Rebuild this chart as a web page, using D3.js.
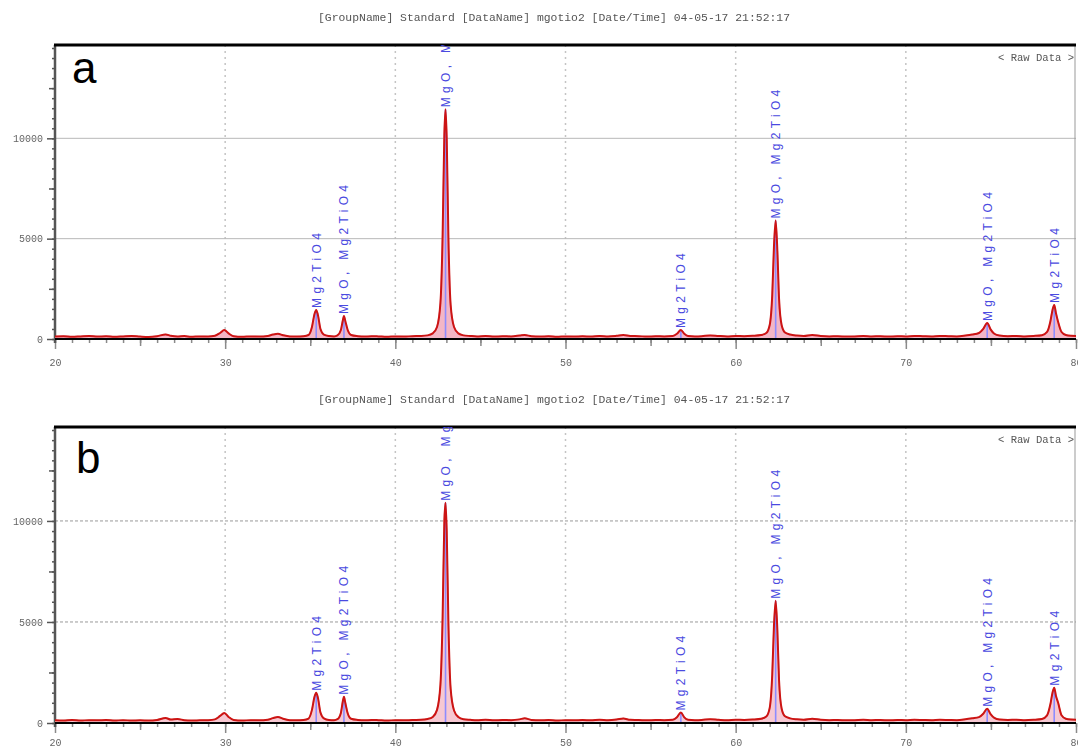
<!DOCTYPE html>
<html>
<head>
<meta charset="utf-8">
<script src="https://cdn.jsdelivr.net/npm/d3@7/dist/d3.min.js"></script>
<style>
  html, body { margin: 0; padding: 0; background: #fff; }
  svg { display: block; }
</style>
</head>
<body>
<svg id="chart" width="1078" height="749"></svg>
<script>
// Scan range and intensity range shared by both patterns
const twoThetaDomain = [20, 80];
const intensityDomain = [0, 14650];

const xMajorTicks = [20, 30, 40, 50, 60, 70, 80];
const yLabelTicks = [0, 5000, 10000];

const headerText = "[GroupName] Standard   [DataName] mgotio2   [Date/Time] 04-05-17 21:52:17";

// Indexed reflections: position (2θ), phase names
const peakPos = [35.35, 36.98, 42.95, 56.78, 62.35, 74.78, 78.72];
const peakNames = ["Mg2TiO4", "MgO, Mg2TiO4", "MgO, Mg2TiO4", "Mg2TiO4", "MgO, Mg2TiO4", "MgO, Mg2TiO4", "Mg2TiO4"];
const peakHeightsA = [1450, 1150, 11450, 450, 5900, 800, 1700];
const peakHeightsB = [1500, 1300, 10900, 520, 6050, 700, 1750];

// Measured pattern (a): [2θ, counts]
const patternA = [
  [20.0,120],[20.5,140],[21.0,110],[21.5,130],[22.0,150],[22.5,120],[23.0,140],[23.5,110],
  [24.0,130],[24.5,150],[25.0,120],[25.5,100],[26.0,140],[26.5,230],[26.8,160],[27.2,120],
  [27.6,150],[28.0,110],[28.5,130],[29.0,120],[29.4,160],[29.7,300],[29.95,450],[30.2,280],
  [30.5,140],[31.0,110],[31.5,130],[32.0,120],[32.5,150],[32.8,220],[33.1,260],[33.4,190],
  [33.8,130],[34.2,120],[34.6,140],[34.9,200],[35.1,600],[35.25,1250],[35.35,1450],[35.45,1200],
  [35.6,500],[35.8,220],[36.1,150],[36.4,130],[36.6,180],[36.8,450],[36.92,950],[36.98,1150],
  [37.06,900],[37.2,450],[37.4,200],[37.8,140],[38.2,120],[38.6,140],[39.0,130],[39.5,110],
  [40.0,130],[40.5,120],[41.0,140],[41.5,150],[41.9,180],[42.2,280],[42.45,600],[42.65,1800],
  [42.78,5200],[42.88,10200],[42.95,11450],[43.02,10000],[43.12,5000],[43.25,1700],[43.45,600],
  [43.7,280],[44.0,180],[44.4,150],[44.8,130],[45.3,150],[45.8,120],[46.3,140],[46.8,130],
  [47.3,170],[47.6,200],[48.0,140],[48.5,120],[49.0,140],[49.5,110],[50.0,130],[50.5,120],
  [51.0,140],[51.5,120],[52.0,150],[52.5,130],[53.0,160],[53.4,200],[53.8,150],[54.3,140],
  [54.8,120],[55.3,140],[55.8,130],[56.3,150],[56.55,260],[56.78,450],[56.98,260],[57.2,150],
  [57.6,130],[58.0,140],[58.5,180],[59.0,150],[59.5,130],[60.0,150],[60.5,140],[61.0,160],
  [61.5,200],[61.8,300],[62.0,700],[62.15,2200],[62.25,4600],[62.35,5900],[62.45,4400],
  [62.55,2000],[62.7,700],[62.9,320],[63.2,220],[63.6,170],[64.0,150],[64.5,200],[65.0,150],
  [65.5,130],[66.0,140],[66.5,120],[67.0,130],[67.5,150],[68.0,130],[68.5,140],[69.0,120],
  [69.5,140],[70.0,130],[70.5,150],[71.0,140],[71.5,130],[72.0,150],[72.5,140],[73.0,130],
  [73.5,170],[73.9,220],[74.3,300],[74.55,500],[74.78,800],[74.98,480],[75.2,260],[75.5,170],
  [76.0,140],[76.5,150],[77.0,130],[77.5,150],[78.0,190],[78.3,350],[78.5,900],[78.62,1450],
  [78.72,1700],[78.82,1300],[78.95,850],[79.15,350],[79.4,200],[79.7,160],[80.0,150]
];

// Measured pattern (b): [2θ, counts]
const patternB = [
  [20.0,130],[20.5,120],[21.0,150],[21.5,120],[22.0,140],[22.5,130],[23.0,150],[23.5,120],
  [24.0,140],[24.5,120],[25.0,130],[25.5,120],[26.0,150],[26.5,250],[26.8,170],[27.2,200],
  [27.6,140],[28.0,120],[28.5,130],[29.0,140],[29.4,180],[29.7,350],[29.95,500],[30.2,300],
  [30.5,150],[31.0,120],[31.5,140],[32.0,130],[32.5,160],[32.8,240],[33.1,300],[33.4,210],
  [33.8,140],[34.2,130],[34.6,150],[34.9,220],[35.1,650],[35.25,1300],[35.35,1500],[35.45,1250],
  [35.6,520],[35.8,230],[36.1,150],[36.4,140],[36.6,190],[36.8,500],[36.92,1100],[36.98,1300],
  [37.06,1000],[37.2,480],[37.4,210],[37.8,150],[38.2,130],[38.6,150],[39.0,140],[39.5,120],
  [40.0,140],[40.5,130],[41.0,150],[41.5,160],[41.9,200],[42.2,300],[42.45,650],[42.65,1900],
  [42.78,5300],[42.88,10000],[42.95,10900],[43.02,9500],[43.12,4900],[43.25,1700],[43.45,620],
  [43.7,300],[44.0,190],[44.4,160],[44.8,140],[45.3,160],[45.8,130],[46.3,150],[46.8,140],
  [47.3,180],[47.6,230],[48.0,150],[48.5,130],[49.0,150],[49.5,120],[50.0,140],[50.5,130],
  [51.0,150],[51.5,130],[52.0,160],[52.5,140],[53.0,170],[53.4,220],[53.8,160],[54.3,150],
  [54.8,130],[55.3,150],[55.8,140],[56.3,160],[56.55,290],[56.78,520],[56.98,280],[57.2,160],
  [57.6,140],[58.0,150],[58.5,190],[59.0,160],[59.5,140],[60.0,160],[60.5,150],[61.0,170],
  [61.5,210],[61.8,320],[62.0,750],[62.15,2400],[62.25,4800],[62.35,6050],[62.45,4600],
  [62.55,2100],[62.7,720],[62.9,330],[63.2,230],[63.6,180],[64.0,160],[64.5,210],[65.0,160],
  [65.5,140],[66.0,150],[66.5,130],[67.0,140],[67.5,160],[68.0,140],[68.5,150],[69.0,130],
  [69.5,150],[70.0,140],[70.5,160],[71.0,150],[71.5,140],[72.0,160],[72.5,150],[73.0,140],
  [73.5,180],[73.9,230],[74.3,290],[74.55,460],[74.78,700],[74.98,440],[75.2,250],[75.5,170],
  [76.0,150],[76.5,160],[77.0,140],[77.5,160],[78.0,200],[78.3,380],[78.5,950],[78.62,1500],
  [78.72,1750],[78.82,1350],[78.95,1000],[79.15,380],[79.4,210],[79.7,170],[80.0,160]
];

const svg = d3.select("#chart");

const defs = svg.append("defs");
defs.append("filter").attr("id", "soft")
  .append("feGaussianBlur").attr("stdDeviation", 0.55);

const left = 55, right = 1076;
const x = d3.scaleLinear().domain(twoThetaDomain).range([left, right]);

function drawPanel(cfg) {
  const y = d3.scaleLinear().domain(intensityDomain).range([cfg.bottom, cfg.top]);
  const g = svg.append("g");
  const clipId = "clip-" + cfg.letter;
  defs.append("clipPath").attr("id", clipId)
    .append("rect").attr("x", left).attr("y", cfg.top)
    .attr("width", right - left).attr("height", cfg.bottom - cfg.top + 3);

  // header line
  g.append("text")
    .attr("x", 318).attr("y", cfg.top - 24)
    .attr("textLength", 472).attr("lengthAdjust", "spacingAndGlyphs")
    .style("font-family", "'Liberation Mono', 'DejaVu Sans Mono', monospace")
    .style("font-size", "10px").attr("fill", "#555")
    .attr("filter", "url(#soft)")
    .text(headerText);

  // grid
  const grid = g.append("g");
  grid.selectAll("line.v").data(xMajorTicks.slice(1, -1)).join("line")
    .attr("x1", d => x(d)).attr("x2", d => x(d))
    .attr("y1", cfg.top).attr("y2", cfg.bottom)
    .attr("stroke", "#c4c4c4").attr("stroke-width", 1.5)
    .attr("stroke-dasharray", "2,4");
  grid.selectAll("line.h").data([5000, 10000]).join("line")
    .attr("x1", left).attr("x2", right)
    .attr("y1", d => y(d)).attr("y2", d => y(d))
    .attr("stroke", cfg.dashedH ? "#9a9a9a" : "#b8b8b8")
    .attr("stroke-width", 1)
    .attr("stroke-dasharray", cfg.dashedH ? "3,2" : null);

  // x axis ticks: 1°, 5°, 10°
  const xAxisMinor = d3.axisBottom(x).tickValues(d3.range(20, 81, 1)).tickSize(4).tickFormat("");
  const xAxisMid = d3.axisBottom(x).tickValues(d3.range(25, 80, 10)).tickSize(7).tickFormat("");
  const xAxisMajor = d3.axisBottom(x).tickValues(xMajorTicks).tickSize(10)
    .tickPadding(cfg.labelPad).tickFormat(d3.format("d"));
  [xAxisMinor, xAxisMid, xAxisMajor].forEach(ax => {
    const a = g.append("g").attr("transform", `translate(0,${cfg.bottom})`).call(ax);
    a.select(".domain").remove();
    a.selectAll("line").attr("stroke", "#8a8a8a").attr("stroke-width", 1.5);
    a.selectAll("text").attr("fill", "#666")
      .style("font-family", "'Liberation Mono', monospace").style("font-size", "10px")
      .attr("filter", "url(#soft)");
  });

  // y axis ticks: 500, 2500, 5000
  const yAxisMinor = d3.axisLeft(y).tickValues(d3.range(0, 14501, 500)).tickSize(3).tickFormat("");
  const yAxisMid = d3.axisLeft(y).tickValues(d3.range(2500, 14501, 5000)).tickSize(6).tickFormat("");
  const yAxisMajor = d3.axisLeft(y).tickValues(yLabelTicks).tickSize(8).tickPadding(4).tickFormat(d3.format("d"));
  [yAxisMinor, yAxisMid, yAxisMajor].forEach(ax => {
    const a = g.append("g").attr("transform", `translate(${left},0)`).call(ax);
    a.select(".domain").remove();
    a.selectAll("line").attr("stroke", "#555").attr("stroke-width", 1.5);
    a.selectAll("text").attr("fill", "#666")
      .style("font-family", "'Liberation Mono', monospace").style("font-size", "10px")
      .attr("filter", "url(#soft)");
  });

  // plot frame
  g.append("line").attr("x1", left).attr("x2", left).attr("y1", cfg.top).attr("y2", cfg.bottom + 4)
    .attr("stroke", "#555").attr("stroke-width", 2.5);
  g.append("line").attr("x1", right - 1).attr("x2", right - 1).attr("y1", cfg.top).attr("y2", cfg.bottom)
    .attr("stroke", "#999").attr("stroke-width", 1);
  g.append("line").attr("x1", left - 1).attr("x2", right).attr("y1", cfg.top).attr("y2", cfg.top)
    .attr("stroke", "#000").attr("stroke-width", 3);

  const plot = g.append("g").attr("clip-path", `url(#${clipId})`);

  // profile fill
  const area = d3.area().x(d => x(d[0])).y0(y(0)).y1(d => y(d[1])).curve(d3.curveMonotoneX);
  const line = d3.line().x(d => x(d[0])).y(d => y(d[1])).curve(d3.curveMonotoneX);
  plot.append("path").datum(cfg.pattern).attr("d", area)
    .attr("fill", cfg.fill).attr("stroke", cfg.outline).attr("stroke-width", 1.4);

  // reflection sticks
  plot.selectAll("line.stick").data(peakPos).join("line")
    .attr("x1", d => x(d)).attr("x2", d => x(d))
    .attr("y1", y(0)).attr("y2", (d, i) => y(cfg.heights[i]))
    .attr("stroke", "#8c8cff").attr("stroke-width", 1.6);

  // measured pattern
  plot.append("path").datum(cfg.pattern).attr("d", line)
    .attr("fill", "none").attr("stroke", "#cc1414").attr("stroke-width", 2);

  // baseline
  g.append("line").attr("x1", left).attr("x2", right).attr("y1", y(0)).attr("y2", y(0))
    .attr("stroke", "#000").attr("stroke-width", 2);

  // phase labels
  plot.selectAll("text.phase").data(peakPos).join("text")
    .attr("transform", (d, i) => `translate(${x(d) + 4.5},${y(cfg.heights[i]) - 2}) rotate(-90)`)
    .attr("text-anchor", "start")
    .style("font-family", "'Liberation Sans', Arial, sans-serif")
    .style("font-size", "12px").style("letter-spacing", "4.3px")
    .attr("fill", "#4a4ae0")
    .text((d, i) => peakNames[i]);

  // "< Raw Data >"
  g.append("text").attr("x", right - 2).attr("y", cfg.top + 16)
    .attr("text-anchor", "end")
    .attr("textLength", 76).attr("lengthAdjust", "spacingAndGlyphs")
    .style("font-family", "'Liberation Mono', monospace").style("font-size", "11px")
    .attr("fill", "#555").attr("filter", "url(#soft)")
    .text("< Raw Data >");

  // panel letter
  g.append("text").attr("x", cfg.letterX).attr("y", cfg.letterY)
    .style("font-family", "'Liberation Sans', Arial, sans-serif")
    .style("font-size", "44px").attr("fill", "#000")
    .text(cfg.letter);
}

drawPanel({ letter: "a", top: 45, bottom: 339, pattern: patternA, heights: peakHeightsA,
  fill: "#f3b6c6", outline: "#ec9db2", dashedH: false, letterX: 72, letterY: 83, labelPad: 10 });
drawPanel({ letter: "b", top: 427, bottom: 723, pattern: patternB, heights: peakHeightsB,
  fill: "#f6c8d2", outline: "#f0a890", dashedH: true, letterX: 76, letterY: 473, labelPad: 6 });
</script>
</body>
</html>
